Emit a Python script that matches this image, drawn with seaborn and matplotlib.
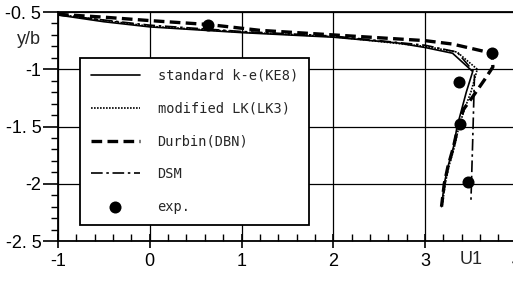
import matplotlib
matplotlib.use("Agg")
import matplotlib.pyplot as plt
import seaborn as sns
import numpy as np

# ---- data ----
ke_x = [-1.0, -0.5, 0.0, 1.0, 2.0, 2.7, 3.0, 3.3, 3.52, 3.45, 3.40, 3.35, 3.31, 3.25, 3.21, 3.18]
ke_y = [-0.526, -0.585, -0.63, -0.68, -0.72, -0.77, -0.81, -0.86, -1.02, -1.20, -1.35, -1.50, -1.68, -1.85, -2.00, -2.20]

lk_x = [-1.0, 0.0, 1.0, 2.0, 3.0, 3.35, 3.57, 3.50, 3.43, 3.37, 3.32, 3.26, 3.22, 3.19]
lk_y = [-0.52, -0.625, -0.675, -0.715, -0.80, -0.85, -1.00, -1.20, -1.35, -1.50, -1.68, -1.85, -2.00, -2.18]

dbn_x = [-1.0, -0.5, 0.0, 0.65, 1.2, 2.0, 3.0, 3.3, 3.73, 3.74, 3.65, 3.52, 3.42, 3.36, 3.31, 3.25, 3.21, 3.18]
dbn_y = [-0.52, -0.545, -0.575, -0.61, -0.66, -0.70, -0.75, -0.78, -0.86, -0.98, -1.09, -1.24, -1.35, -1.50, -1.68, -1.85, -2.00, -2.20]

dsm_x = [-1.0, 0.0, 1.0, 2.0, 3.0, 3.35, 3.54, 3.52, 3.50]
dsm_y = [-0.525, -0.615, -0.67, -0.71, -0.79, -0.85, -1.03, -1.62, -2.17]

exp_x = [0.63, 3.73, 3.37, 3.38, 3.47]
exp_y = [-0.61, -0.855, -1.11, -1.48, -1.985]

labels = ["standard k-e(KE8)", "modified LK(LK3)", "Durbin(DBN)", "DSM", "exp."]

x_ticks = [-1, 0, 1, 2, 3, 4]
x_ticklabels = ["-1", "0", "1", "2", "3", "4"]
y_ticks = [-2.5, -2.0, -1.5, -1.0, -0.5]
y_ticklabels = ["-2. 5", "-2", "-1. 5", "-1", "-0. 5"]

# ---- style ----
sns.set_style("ticks")
plt.rcParams["font.family"] = ["Liberation Sans", "DejaVu Sans"]

W, H = 513, 281
fig = plt.figure(figsize=(W / 100, H / 100), dpi=100)
x0, x1 = 58, 516.75
y0, y1 = 12, 241
ax = fig.add_axes([x0 / W, 1 - y1 / H, (x1 - x0) / W, (y1 - y0) / H])

sns.lineplot(x=ke_x, y=ke_y, sort=False, estimator=None, color="black", lw=1.2,
             linestyle="-", label=labels[0], ax=ax)
sns.lineplot(x=lk_x, y=lk_y, sort=False, estimator=None, color="black", lw=1.2,
             linestyle=(0, (1, 0.8)), label=labels[1], ax=ax)
sns.lineplot(x=dbn_x, y=dbn_y, sort=False, estimator=None, color="black", lw=2.4,
             linestyle=(0, (3.2, 1.6)), label=labels[2], ax=ax)
sns.lineplot(x=dsm_x, y=dsm_y, sort=False, estimator=None, color="black", lw=1.2,
             linestyle=(0, (7, 2.2, 1.5, 2.2)), label=labels[3], ax=ax)
sns.scatterplot(x=exp_x, y=exp_y, color="black", s=75, edgecolor="black",
                linewidth=0, label=labels[4], ax=ax, zorder=5)

ax.set_xlim(-1, 4)
ax.set_ylim(-2.5, -0.5)
ax.set_xticks(x_ticks)
ax.set_xticklabels(x_ticklabels)
ax.set_yticks(y_ticks)
ax.set_yticklabels(y_ticklabels)
ax.set_xticks(np.arange(-1, 4.01, 0.2), minor=True)
ax.set_yticks(np.arange(-2.5, -0.49, 0.1), minor=True)
ax.set_xlabel("")
ax.set_ylabel("")

ax.grid(True, which="major", color="black", lw=0.9)
for s in ax.spines.values():
    s.set_color("black")
    s.set_linewidth(1.3)

ax.tick_params(axis="x", which="major", direction="inout", length=10, width=1.2,
               labelsize=13, pad=4, colors="black")
ax.tick_params(axis="x", which="minor", direction="in", length=5, width=1.0, colors="black")
ax.tick_params(axis="y", which="major", direction="out", length=11, width=1.2,
               labelsize=13, pad=1, colors="black")
ax.tick_params(axis="y", which="minor", direction="out", length=5, width=1.0, colors="black")

fig.text(29 / W, 1 - 40 / H, "y/b", ha="center", va="center", fontsize=13)
ax.text(3.5, -0.08, "U1", transform=ax.get_xaxis_transform(), ha="center", va="center",
        fontsize=13)

leg = ax.legend(loc="upper left",
                bbox_to_anchor=((80 - x0) / (x1 - x0), 1 - (58 - y0) / (y1 - y0)),
                borderaxespad=0, frameon=True, fancybox=False, framealpha=1,
                edgecolor="black", handlelength=3.6, handletextpad=1.3,
                labelspacing=1.38, borderpad=0.8,
                prop={"family": ["DejaVu Sans Mono"], "size": 9.8})
leg.get_frame().set_linewidth(1.3)

fig.savefig("out.png", dpi=100)
